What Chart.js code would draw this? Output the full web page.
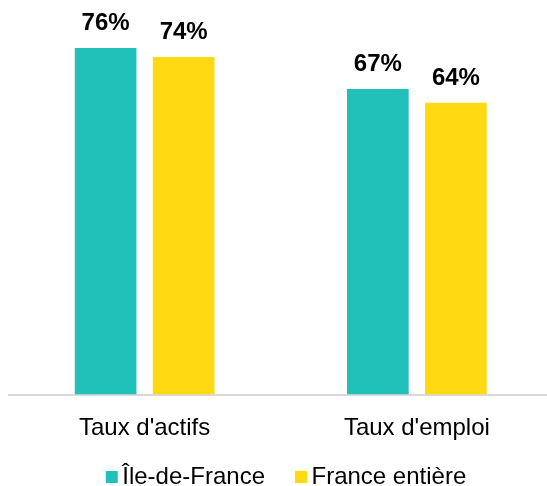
<!DOCTYPE html>
<html>
<head>
<meta charset="utf-8">
<script src="https://cdn.jsdelivr.net/npm/chart.js@4/dist/chart.umd.min.js"></script>
<style>
  html, body { margin: 0; padding: 0; background: #fff; overflow: hidden; }
  #wrap { position: relative; width: 553px; height: 486px; }
</style>
</head>
<body>
<div id="wrap"><canvas id="chart"></canvas></div>
<script>
// data
const categories = ["Taux d'actifs", "Taux d'emploi"];
const seriesNames = ["Île-de-France", "France entière"];
const ileDeFrance = [76, 67];
const franceEntiere = [74, 64];
const seriesColors = ["#21C1B9", "#FFDA12"];

const FONT = "'Liberation Sans', Arial, sans-serif";

// value labels above the bars
const valueLabels = {
  id: "valueLabels",
  afterDatasetsDraw(chart) {
    const ctx = chart.ctx;
    ctx.save();
    ctx.font = "bold 24px " + FONT;
    ctx.fillStyle = "#000";
    ctx.textAlign = "center";
    ctx.textBaseline = "alphabetic";
    chart.data.datasets.forEach((ds, i) => {
      chart.getDatasetMeta(i).data.forEach((bar, j) => {
        ctx.fillText(ds.data[j] + "%", bar.x, bar.y - 18);
      });
    });
    ctx.restore();
  }
};

// legend at the bottom, drawn by hand for exact spacing
const bottomLegend = {
  id: "bottomLegend",
  afterDraw(chart) {
    const ctx = chart.ctx;
    ctx.save();
    ctx.font = "24px " + FONT;
    ctx.textBaseline = "alphabetic";
    const box = 12, gap = 4.5, spacing = 30;
    const items = chart.data.datasets.map(ds => ({
      text: ds.label, color: ds.backgroundColor, w: ctx.measureText(ds.label).width
    }));
    let total = items.reduce((s, it) => s + box + gap + it.w, 0) + spacing * (items.length - 1);
    let x = 286 - total / 2;
    items.forEach(it => {
      ctx.fillStyle = it.color;
      ctx.fillRect(x, 471, box, box);
      ctx.fillStyle = "#000";
      ctx.fillText(it.text, x + box + gap, 484);
      x += box + gap + it.w + spacing;
    });
    ctx.restore();
  }
};

new Chart(document.getElementById("chart"), {
  type: "bar",
  data: {
    labels: categories,
    datasets: [
      { label: seriesNames[0], data: ileDeFrance, backgroundColor: seriesColors[0] },
      { label: seriesNames[1], data: franceEntiere, backgroundColor: seriesColors[1] }
    ]
  },
  options: {
    responsive: true,
    maintainAspectRatio: false,
    animation: false,
    devicePixelRatio: 1,
    categoryPercentage: 0.5735,
    barPercentage: 0.79,
    layout: { padding: { left: 8.5, right: 0, top: 29.7, bottom: 23.7 } },
    plugins: {
      legend: { display: false },
      tooltip: { enabled: false }
    },
    scales: {
      x: {
        grid: { display: false, drawTicks: false },
        border: { display: true, color: "#d9d9d9", width: 2 },
        ticks: { color: "#000", font: { family: FONT, size: 24 }, padding: 19.5 }
      },
      y: {
        display: false,
        min: 0,
        max: 80
      }
    }
  },
  plugins: [valueLabels, bottomLegend]
});
</script>
</body>
</html>
